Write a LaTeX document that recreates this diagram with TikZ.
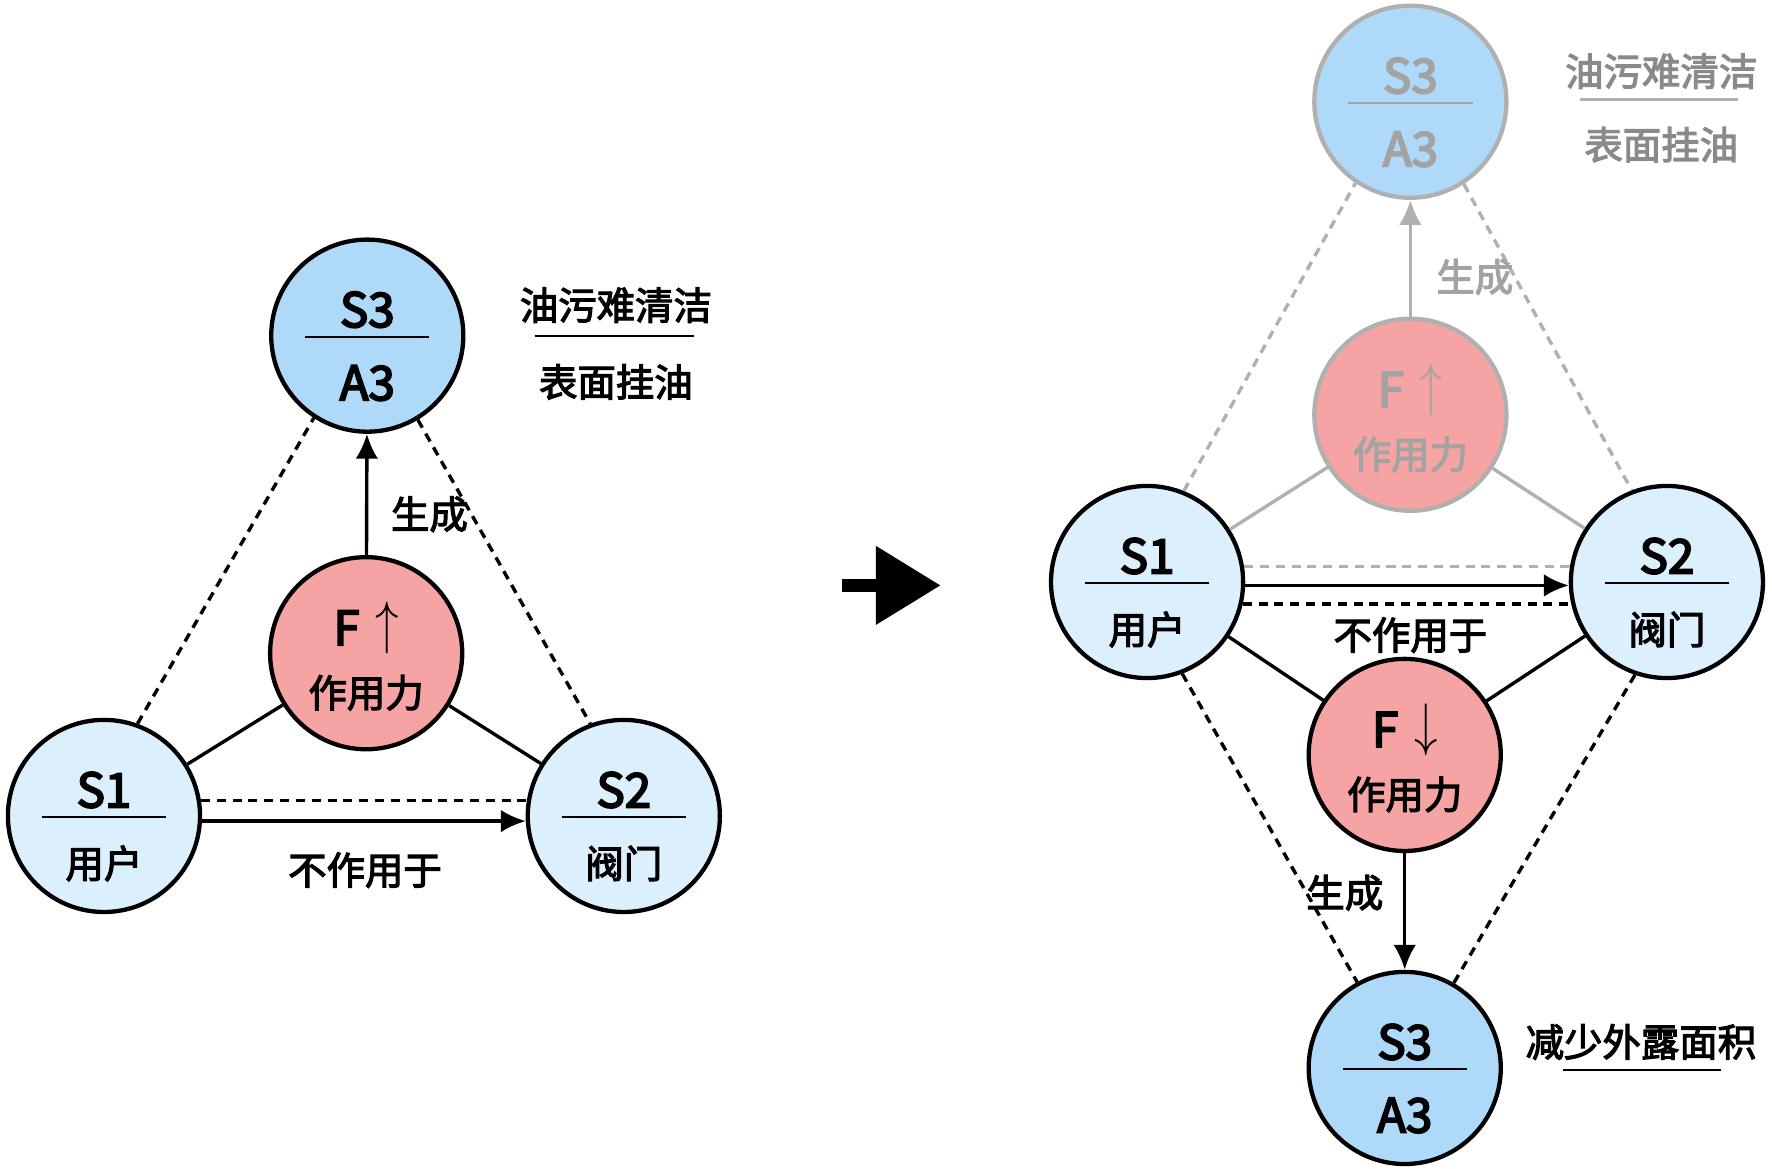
\documentclass[tikz,border=0pt]{standalone}
\usepackage{fontspec}
\setmainfont{Noto Sans CJK SC}
\newfontfamily\cjkmed{Noto Sans CJK SC}[FakeBold=3]
\newfontfamily\latmed{Noto Sans CJK SC}[FakeBold=4]
\usetikzlibrary{arrows.meta,calc}
\definecolor{lblue}{HTML}{DCEFFC}
\definecolor{mblue}{HTML}{AED9F8}
\definecolor{pinkf}{HTML}{F5A3A3}
\definecolor{gline}{HTML}{B0B0B0}
\definecolor{gtext}{HTML}{A3A3A3}
\definecolor{gside}{HTML}{8A8A8A}
\newcommand\stnode[8]{%
  \node[circ,fill=#6,draw=#7] (#1) at (#2,#3) {};
  \node[lat,text=#8] at ($(#1)+(0,-23)$) {#4};
  \draw[line width=1pt,draw=#8] ($(#1)+(-55,1)$) -- ($(#1)+(55,1)$);
  \node[lat,text=#8] at ($(#1)+(0,42)$) {#5};
}
\newcommand\fnode[6]{%
  \node[circ,fill=pinkf,draw=#5] (#1) at (#2,#3) {};
  \node[lat,text=#6] at ($(#1)+(0,-22)$) {F\hspace{7pt}\raisebox{1pt}{\scalebox{1}[1.25]{#4}}};
  \node[cjk,text=#6] at ($(#1)+(0,35)$) {作用力};
}
\newcommand\cj[1]{{\cjkmed\fontsize{17}{20}\selectfont #1}}
\begin{document}
\begin{tikzpicture}[x=0.5pt,y=-0.5pt,
  circ/.style={circle,line width=1.9pt,minimum size=85pt,inner sep=0pt},
  lat/.style={font=\latmed\fontsize{21}{24}\selectfont,inner sep=0pt},
  cjk/.style={font=\cjkmed\fontsize{17}{20}\selectfont,inner sep=0pt},
  dline/.style={line width=1.5pt,dash pattern=on 4pt off 3pt},
  sline/.style={line width=1.5pt},
  arr/.style={line width=1.5pt,-{Latex[length=11pt,width=10pt]}},
]
\useasboundingbox (0,0) rectangle (1568,1034.4);
% ---------- left diagram ----------
\stnode{S3L}{325}{297}{S3}{A3}{mblue}{black}{black}
\fnode{FL}{324}{578}{$\uparrow$}{black}{black}
\stnode{S1L}{92}{722}{S1}{\cj{用户}}{lblue}{black}{black}
\stnode{S2L}{552}{722}{S2}{\cj{阀门}}{lblue}{black}{black}
\draw[dline] (S1L.70) -- (S3L.237);
\draw[dline] (S3L.301) -- (S2L.110);
\draw[sline] (FL) -- (S1L);
\draw[sline] (FL) -- (S2L);
\draw[arr] (FL) -- (S3L);
\node[cjk] (genL) at (380,455) {生成};
\draw[dline] (S1L.9) -- (S2L.171);
\draw[arr] (S1L.-3) -- (S2L.183);
\node[cjk] (noL) at (323,770) {不作用于};
\node[cjk] (t1L) at (545,270) {油污难清洁};
\node[cjk] (t2L) at (545,338) {表面挂油};
\draw[line width=1pt] (473,297) -- (614,297);
% ---------- big arrow ----------
\fill (745,512) rectangle (778,524);
\fill (775,483) -- (832,518) -- (775,553) -- cycle;
% ---------- right diagram ----------
\stnode{S3T}{1248}{90}{S3}{A3}{mblue}{gline}{gtext}
\fnode{FU}{1248}{367}{$\uparrow$}{gline}{gtext}
\stnode{S1R}{1015}{515}{S1}{\cj{用户}}{lblue}{black}{black}
\stnode{S2R}{1475}{515}{S2}{\cj{阀门}}{lblue}{black}{black}
\fnode{FD}{1243}{668}{$\downarrow$}{black}{black}
\stnode{S3B}{1243}{945}{S3}{A3}{mblue}{black}{black}
% faded connectors
\draw[dline,gline] (S1R.68) -- (S3T.236);
\draw[dline,gline] (S3T.303) -- (S2R.111);
\draw[sline,gline] (FU) -- (S1R);
\draw[sline,gline] (FU) -- (S2R);
\draw[arr,gline] (FU) -- (S3T);
\node[cjk,text=gtext] (genU) at (1305,245) {生成};
\node[cjk,text=gside] (t1R) at (1470,63) {油污难清洁};
\node[cjk,text=gside] (t2R) at (1470,128) {表面挂油};
\draw[line width=1pt,gline] (1398,88) -- (1538,88);
% horizontal
\draw[dline,gline] (S1R.9) -- (S2R.171);
\draw[arr] (S1R.-2) -- (S2R.182);
\draw[dline] (S1R.-13.6) -- (S2R.193.6);
\node[cjk] (noR) at (1248,562) {不作用于};
% lower part
\draw[sline] (S1R) -- (FD);
\draw[sline] (S2R) -- (FD);
\draw[dline] (S1R.291) -- (S3B.119);
\draw[dline] (S2R.251) -- (S3B.60);
\draw[arr] (FD) -- (S3B);
\node[cjk] (genD) at (1190,790) {生成};
\node[cjk] (t3R) at (1452,922) {减少外露面积};
\draw[line width=1pt] (1383,947) -- (1523,947);
\end{tikzpicture}
\end{document}
